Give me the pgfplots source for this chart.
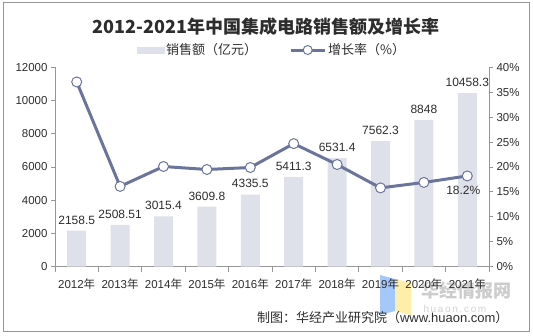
\documentclass[border=0pt]{standalone}
\usepackage{pgfplots}
\pgfplotsset{compat=1.18}
\usepackage{fontspec}
\setmainfont{Liberation Sans}
\newfontfamily\cjk{Noto Sans CJK SC}
\definecolor{barc}{RGB}{222,225,234}
\definecolor{linec}{RGB}{107,117,155}
\definecolor{axc}{RGB}{150,150,150}
\definecolor{txt}{RGB}{45,45,45}
\definecolor{wmblue}{RGB}{165,200,250}
\definecolor{wmyel}{RGB}{255,238,170}
\newcommand{\nian}{{\cjk 年}}
\begin{document}
\begin{tikzpicture}[x=1bp,y=1bp]
\path[use as bounding box] (0,0) rectangle (533,335);
\draw[axc, line width=1bp] (3,4) rectangle (529,332);
% watermark
\fill[wmblue] (380,20) -- (395,24) -- (395,56) -- (380,60) -- cycle;
\fill[wmyel] (395,24) -- (411,20) -- (411,52) -- (395,56) -- cycle;
\node[text=black!20, font=\cjk\bfseries\fontsize{18bp}{20bp}\selectfont, anchor=west] at (418,44) {华经情报网};
\node[text=black!18, font=\fontsize{10bp}{12bp}\selectfont, anchor=west] at (420,26) {h\,u\,a\,o\,n\,.\,c\,o\,m};
% title and footer
\node[text=txt, font=\cjk\bfseries\fontsize{18bp}{20bp}\selectfont] at (266,308) {2012-2021年中国集成电路销售额及增长率};
\node[text=txt, font=\fontsize{13bp}{15bp}\selectfont, anchor=east] at (512,17) {{\cjk 制图：华经产业研究院（}www.huaon.com{\cjk ）}};
\begin{axis}[
  at={(55bp,68.5bp)}, anchor=south west,
  scale only axis, width=434bp, height=199bp,
  xmin=-0.5, xmax=9.5, ymin=0, ymax=12000,
  axis y line*=left, axis x line*=bottom,
  axis line style={axc, line width=0.8bp},
  every tick/.style={axc, line width=0.8bp},
  tick align=outside, major tick length=4bp, minor tick length=5bp,
  xtick={0,...,9},
  xticklabels={2012\nian,2013\nian,2014\nian,2015\nian,2016\nian,2017\nian,2018\nian,2019\nian,2020\nian,2021\nian},
  major x tick style={draw=none},
  minor xtick={-0.5,0.5,...,9.5},
  ytick={0,2000,...,12000},
  scaled y ticks=false,
  /pgf/number format/1000 sep={},
  /pgf/number format/assume math mode=true,
  tick label style={text=txt, font=\fontsize{11.5bp}{13bp}\selectfont},
  xticklabel style={yshift=-5bp},
  clip=false,
]
\addplot[ybar, bar width=19bp, fill=barc, draw=none,
  point meta=explicit symbolic,
  nodes near coords,
  nodes near coords style={text=txt, font=\fontsize{12bp}{14bp}\selectfont, yshift=3bp}]
coordinates {(0,2158.5)[2158.5] (1,2508.51)[2508.51] (2,3015.4)[3015.4] (3,3609.8)[3609.8] (4,4335.5)[4335.5] (5,5411.3)[5411.3] (6,6531.4)[6531.4] (7,7562.3)[7562.3] (8,8848)[8848] (9,10458.3)[10458.3]};
\end{axis}
\begin{axis}[
  at={(55bp,68.5bp)}, anchor=south west,
  scale only axis, width=434bp, height=199bp,
  xmin=-0.5, xmax=9.5, ymin=0, ymax=40,
  axis y line*=right, axis x line=none,
  axis line style={axc, line width=0.8bp},
  every tick/.style={axc, line width=0.8bp},
  tick align=outside, major tick length=4bp,
  ytick={0,5,...,40},
  /pgf/number format/assume math mode=true,
  yticklabel={\pgfmathprintnumber{\tick}\%},
  tick label style={text=txt, font=\fontsize{11.5bp}{13bp}\selectfont},
  clip=false,
  legend style={draw=none, fill=none, at={(0.5,1)}, anchor=south, yshift=7bp,
    font=\cjk\fontsize{13bp}{15bp}\selectfont, text=txt,
    /tikz/every even column/.append style={column sep=30bp}},
  legend columns=2,
]
\addlegendimage{legend image code/.code={\fill[barc] (0bp,-3bp) rectangle (27bp,3bp);}}
\addlegendentry{销售额（亿元）}
\addplot[linec, line width=3bp, mark=*, mark size=5bp,
  mark options={fill=white, draw=linec, line width=1bp},
  legend image code/.code={\draw[linec, line width=3bp] (0bp,0bp) -- (34bp,0bp);
    \draw[linec, fill=white, line width=1bp] (17bp,0bp) circle (4.5bp);}]
coordinates {(0,37.1) (1,16.1) (2,20.1) (3,19.5) (4,19.9) (5,24.7) (6,20.5) (7,15.8) (8,16.9) (9,18.2)};
\addlegendentry{增长率（\%）}
\addplot[draw=none, point meta=explicit symbolic, nodes near coords,
  nodes near coords style={anchor=north, text=txt, font=\fontsize{12bp}{14bp}\selectfont, yshift=-7bp, xshift=-4bp}]
coordinates {(9,18.2)[18.2\%]};
\end{axis}
\end{tikzpicture}
\end{document}
